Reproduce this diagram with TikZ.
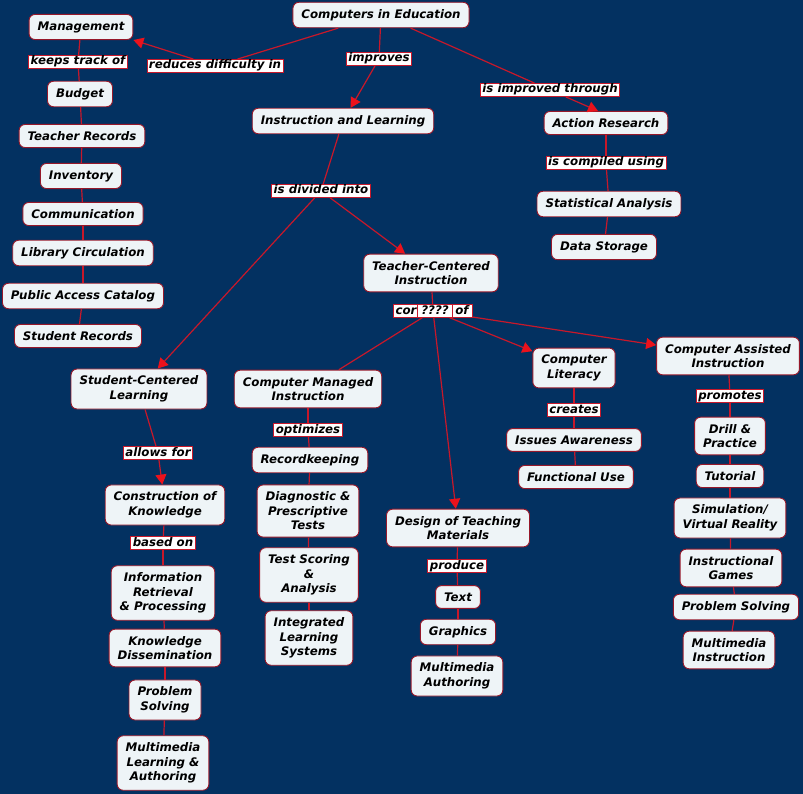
\documentclass[tikz,border=0pt]{standalone}
\usepackage{fontspec}
\setmainfont{DejaVu Sans}
\usetikzlibrary{arrows.meta}
\definecolor{bg}{RGB}{3,49,97}
\definecolor{cfill}{RGB}{238,244,247}
\definecolor{cbrd}{RGB}{150,24,42}
\definecolor{lnk}{RGB}{200,24,42}
\definecolor{arw}{RGB}{235,18,28}
\tikzset{
  >={Triangle[length=10pt,width=11pt,color=arw]},
  every node/.style={font=\fontsize{11.8}{14.5}\selectfont\bfseries\itshape,inner sep=0pt},
  concept/.style={draw=cbrd,fill=cfill,line width=0.9pt,rounded corners=6pt,
    align=center,inner xsep=8.5pt,inner ysep=7pt},
  phrase/.style={draw=lnk,fill=white,line width=0.8pt,inner xsep=2pt,inner ysep=1pt,
    text height=8.5pt,text depth=2.5pt},
  link/.style={draw=lnk,line width=1.2pt},
  arr/.style={link,->},
}

\begin{document}
\begin{tikzpicture}[x=1pt,y=-1pt]
  \fill[bg] (0,0) rectangle (803,794);
  \useasboundingbox (0,0) rectangle (803,794);

  % root and first level
  \node[concept] (cie) at (381,15)  {Computers in Education};
  \node[concept] (mgmt) at (81,27)  {Management};
  \node[concept] (instr) at (343,121) {Instruction and Learning};
  \node[concept] (action) at (606,123) {Action Research};
  \node[phrase] (reduces) at (215,66)  {reduces difficulty in};
  \node[phrase] (improves) at (379,59) {improves};
  \node[phrase] (imprthr) at (550,90)  {is improved through};

  % management column (x ~ 80)
  \node[phrase]  (keeps) at (78,62)    {keeps track of};
  \node[concept] (budget) at (80,94)   {Budget};
  \node[concept] (trec) at (82,136)    {Teacher Records};
  \node[concept] (invent) at (81,176)  {Inventory};
  \node[concept] (comm) at (83,214)    {Communication};
  \node[concept] (libcirc) at (83,253) {Library Circulation};
  \node[concept] (pubcat) at (83,296)  {Public Access Catalog};
  \node[concept] (srec) at (78,336)    {Student Records};

  % action research column
  \node[phrase]  (compiled) at (606,163) {is compiled using};
  \node[concept] (stat) at (609,204)     {Statistical Analysis};
  \node[concept] (store) at (604,247)    {Data Storage};

  % instruction and learning split
  \node[phrase]  (divided) at (321,191) {is divided into};
  \node[concept] (teach) at (431,273)   {Teacher-Centered\\Instruction};
  \node[concept] (stud) at (139,389)    {Student-Centered\\Learning};

  % "consists of" label, three pieces
  \node[minimum width=78pt,minimum height=13pt] (consists) at (433,311) {};
  \node[phrase] (cons1) at (406,311) {cor};
  \node[phrase,minimum width=35pt] (cons2) at (435,311) {????};
  \node[phrase,minimum width=20pt] (cons3) at (462,311) {of};

  % teacher-centered branches
  \node[concept] (cmi) at (308,389)   {Computer Managed\\Instruction};
  \node[concept] (design) at (458,528) {Design of Teaching\\Materials};
  \node[concept] (literacy) at (574,368) {Computer\\Literacy};
  \node[concept] (cai) at (728,356)   {Computer Assisted\\Instruction};

  % student-centered column (x ~ 165)
  \node[phrase]  (allows) at (158,453) {allows for};
  \node[concept] (constr) at (165,505) {Construction of\\Knowledge};
  \node[phrase]  (based) at (163,543)  {based on};
  \node[concept] (inforet) at (163,593) {Information\\Retrieval\\\& Processing};
  \node[concept] (dissem) at (165,648)  {Knowledge\\Dissemination};
  \node[concept] (probl) at (165,700)   {Problem\\Solving};
  \node[concept] (mmla) at (163,763)    {Multimedia\\Learning \&\\Authoring};

  % computer managed column (x ~ 309)
  \node[phrase]  (optim) at (308,430)  {optimizes};
  \node[concept] (reckeep) at (310,460) {Recordkeeping};
  \node[concept] (diag) at (308,511)   {Diagnostic \&\\Prescriptive\\Tests};
  \node[concept] (score) at (309,575)  {Test Scoring\\\&\\Analysis};
  \node[concept] (ils) at (309,638)    {Integrated\\Learning\\Systems};

  % design column (x ~ 458)
  \node[phrase]  (produce) at (457,566) {produce};
  \node[concept] (text) at (458,597)    {Text};
  \node[concept] (graph) at (458,632)   {Graphics};
  \node[concept] (mmauth) at (457,676)  {Multimedia\\Authoring};

  % literacy column (x ~ 574)
  \node[phrase]  (creates) at (574,410) {creates};
  \node[concept] (issues) at (574,440)  {Issues Awareness};
  \node[concept] (funcuse) at (576,477) {Functional Use};

  % assisted column (x ~ 730)
  \node[phrase]  (promotes) at (730,396) {promotes};
  \node[concept] (drill) at (730,436)   {Drill \&\\Practice};
  \node[concept] (tutor) at (730,476)   {Tutorial};
  \node[concept] (simul) at (730,518)   {Simulation/\\Virtual Reality};
  \node[concept] (games) at (731,568)   {Instructional\\Games};
  \node[concept] (probr) at (736,607)   {Problem Solving};
  \node[concept] (mminst) at (729,650)  {Multimedia\\Instruction};

  % links
  \draw[link] (cie) -- (reduces);
  \draw[arr]  (reduces) -- (mgmt.south east);
  \draw[link] (cie) -- (improves);
  \draw[arr]  (improves) -- (instr);
  \draw[link] (cie) -- (imprthr);
  \draw[arr]  (imprthr) -- ([xshift=-8pt]action.north);

  \draw[link] (mgmt) -- (keeps);
  \draw[link] (keeps) -- (budget);
  \draw[link] (budget) -- (trec);
  \draw[link] (trec) -- (invent);
  \draw[link] (invent) -- (comm);
  \draw[link] (comm) -- (libcirc);
  \draw[link] (libcirc) -- (pubcat);
  \draw[link] (pubcat) -- (srec);

  \draw[link] (action) -- (compiled);
  \draw[link] (compiled) -- (stat);
  \draw[link] (stat) -- (store);

  \draw[link] (instr) -- (divided);
  \draw[arr]  (divided) -- (teach);
  \draw[arr]  (divided) -- (stud);

  \draw[link] (teach) -- (consists);
  \draw[link] (consists) -- (cmi);
  \draw[arr]  (consists) -- (design);
  \draw[arr]  (consists) -- (literacy);
  \draw[arr]  (consists) -- (cai);

  \draw[link] (stud) -- (allows);
  \draw[arr]  (allows) -- (constr);
  \draw[link] (constr) -- (based);
  \draw[link] (based) -- (inforet);
  \draw[link] (inforet) -- (dissem);
  \draw[link] (dissem) -- (probl);
  \draw[link] (probl) -- (mmla);

  \draw[link] (cmi) -- (optim);
  \draw[link] (optim) -- (reckeep);
  \draw[link] (reckeep) -- (diag);
  \draw[link] (diag) -- (score);
  \draw[link] (score) -- (ils);

  \draw[link] (design) -- (produce);
  \draw[link] (produce) -- (text);
  \draw[link] (text) -- (graph);
  \draw[link] (graph) -- (mmauth);

  \draw[link] (literacy) -- (creates);
  \draw[link] (creates) -- (issues);
  \draw[link] (issues) -- (funcuse);

  \draw[link] (cai) -- (promotes);
  \draw[link] (promotes) -- (drill);
  \draw[link] (drill) -- (tutor);
  \draw[link] (tutor) -- (simul);
  \draw[link] (simul) -- (games);
  \draw[link] (games) -- (probr);
  \draw[link] (probr) -- (mminst);
\end{tikzpicture}
\end{document}
